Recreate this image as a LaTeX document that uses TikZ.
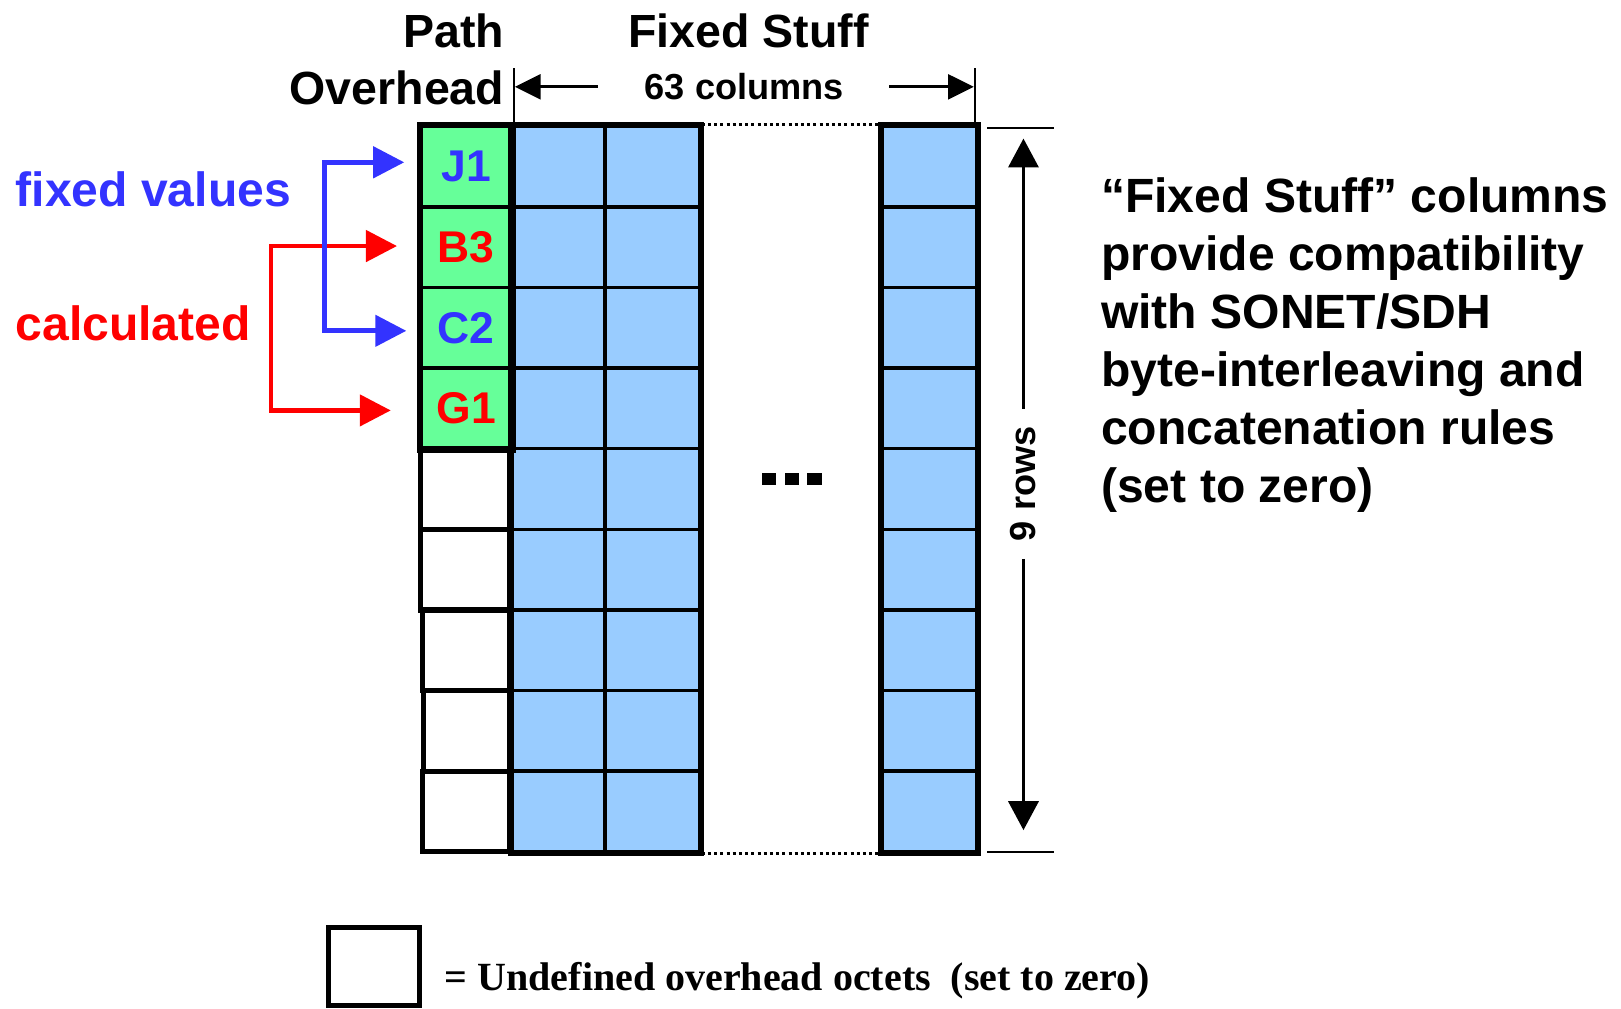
\documentclass[tikz,border=0pt]{standalone}
\usepackage{fontspec}
\setmainfont{Liberation Sans}
\newfontfamily\legendfont{Liberation Serif}
\usetikzlibrary{arrows.meta}
\definecolor{ohgreen}{HTML}{66FF99}
\definecolor{fsblue}{HTML}{99CCFF}
\definecolor{fixblue}{HTML}{3333FF}
\definecolor{calcred}{HTML}{FF0000}
\tikzset{
  cell/.style={draw, line width=3.5pt, minimum height=78pt, inner sep=0pt,
    font=\fontsize{43}{43}\selectfont\bfseries},
  frame/.style={line width=4.5pt},
  headtext/.style={inner sep=0pt, font=\fontsize{45}{45}\selectfont\bfseries},
  dimline/.style={line width=2.5pt},
  dimarrow/.style={line width=3pt, -{Triangle[length=25pt,width=24pt]}},
  rowarrow/.style={line width=3.5pt, -{Triangle[length=28pt,width=29pt]}},
  bracket/.style={line width=4.5pt, {Triangle[length=30pt,width=30pt]}-{Triangle[length=30pt,width=30pt]}},
  dotline/.style={line width=2.5pt, dash pattern=on 3pt off 3pt},
}
\begin{document}
\begin{tikzpicture}[x=1pt,y=-1pt]
\useasboundingbox (0,0) rectangle (1568,976);

% overhead column: J1, B3, C2, G1 and the undefined octets
\foreach \r/\lab/\col in {1/J1/fixblue, 2/B3/calcred, 3/C2/fixblue, 4/G1/calcred}
  \node[cell, fill=ohgreen, text=\col, minimum width=88pt] (oh\r) at (451,{122+78*(\r-0.5)}) {\lab};
\foreach \r/\dx in {5/0, 6/0, 7/2, 8/3, 9/2}
  \node[cell, line width=5pt, fill=white, minimum width={88pt-\dx pt}] (oh\r) at ({451+\dx/2},{122+78*(\r-0.5)}) {};

% fixed stuff columns
\foreach \r in {1,...,9} {
  \node[cell, fill=fsblue, minimum width=90pt] (a\r) at (540,{122+78*(\r-0.5)}) {};
  \node[cell, fill=fsblue, minimum width=92pt] (b\r) at (631,{122+78*(\r-0.5)}) {};
  \node[cell, fill=fsblue, minimum width=92pt] (z\r) at (899,{122+78*(\r-0.5)}) {};
}
\draw[frame] (oh1.north west) rectangle (oh4.south east);
\draw[frame] (a1.north west) rectangle (b9.south east);
\draw[frame] (z1.north west) rectangle (z9.south east);
\draw[line width=5pt] (a5.north west) -- (a9.south west);

% omitted columns
\draw[dotline] (b1.north east) -- (z1.north west);
\draw[dotline] (b9.south east) -- (z9.south west);
\fill (737,458) rectangle (751,469);
\fill (759,458) rectangle (773,469);
\fill (781,458) rectangle (795,469);

% headings
\node[headtext, anchor=east] (path) at (488,30) {Path};
\node[headtext, anchor=east] (overhead) at (488,85) {Overhead};
\node[headtext] (fixed) at (724,30) {Fixed Stuff};

% 63 columns dimension
\coordinate (dimL) at (497,66);
\coordinate (dimR) at (943,66);
\draw[dimline] (dimL) -- (dimL |- a1.north);
\draw[dimline] (dimR) -- (dimR |- z1.north);
\node[inner sep=0pt, font=\fontsize{35}{35}\selectfont\bfseries] (cols) at (720,84) {63 columns};
\coordinate (colsL) at (578,84);
\coordinate (colsR) at (860,84);
\coordinate (tipL) at (498,84);
\coordinate (tipR) at (942,84);
\draw[dimarrow] (colsL) -- (tipL);
\draw[dimarrow] (colsR) -- (tipR);

% 9 rows dimension
\coordinate (tickT1) at (955,124);
\coordinate (tickT2) at (1020,124);
\coordinate (tickB1) at (955,824);
\coordinate (tickB2) at (1020,824);
\draw[dimline] (tickT1) -- (tickT2);
\draw[dimline] (tickB1) -- (tickB2);
\node[rotate=90, inner xsep=17pt, inner ysep=0pt, font=\fontsize{35}{35}\selectfont\bfseries] (rows) at (990,468) {9 rows};
\coordinate (rowsT) at (990,134);
\coordinate (rowsB) at (990,803);
\draw[rowarrow] (rows.east) -- (rowsT);
\draw[rowarrow] (rows.west) -- (rowsB);

% side labels and brackets
\node[anchor=west, inner sep=0pt, text=fixblue, font=\fontsize{46.5}{46.5}\selectfont\bfseries] (fixval) at (15,183) {fixed values};
\node[anchor=west, inner sep=0pt, text=calcred, font=\fontsize{46.5}{46.5}\selectfont\bfseries] (calc) at (15,313) {calculated};

\coordinate (b3tip) at (384,238);
\coordinate (g1tip) at (378,397);
\draw[bracket, calcred] (b3tip) -- (262,238) -- (262,397) -- (g1tip);
\coordinate (j1tip) at (391,157);
\coordinate (c2tip) at (393,320);
\draw[bracket, fixblue] (j1tip) -- (314,157) -- (314,320) -- (c2tip);

% explanation
\node[anchor=west, align=left, inner sep=0pt, font=\fontsize{46.5}{56}\selectfont\bfseries] (note) at (1065,334)
  {“Fixed Stuff” columns\\provide compatibility\\with SONET/SDH\\byte-interleaving and\\concatenation rules\\(set to zero)};

% legend
\node[draw, line width=5pt, minimum width=88pt, minimum height=76pt, inner sep=0pt] (legbox) at (362,935) {};
\node[anchor=base west, inner sep=0pt, font=\legendfont\fontsize{38.7}{38.7}\selectfont\bfseries] (legtext) at (430,958)
  {= Undefined overhead octets\ \ (set to zero)};
\end{tikzpicture}
\end{document}
